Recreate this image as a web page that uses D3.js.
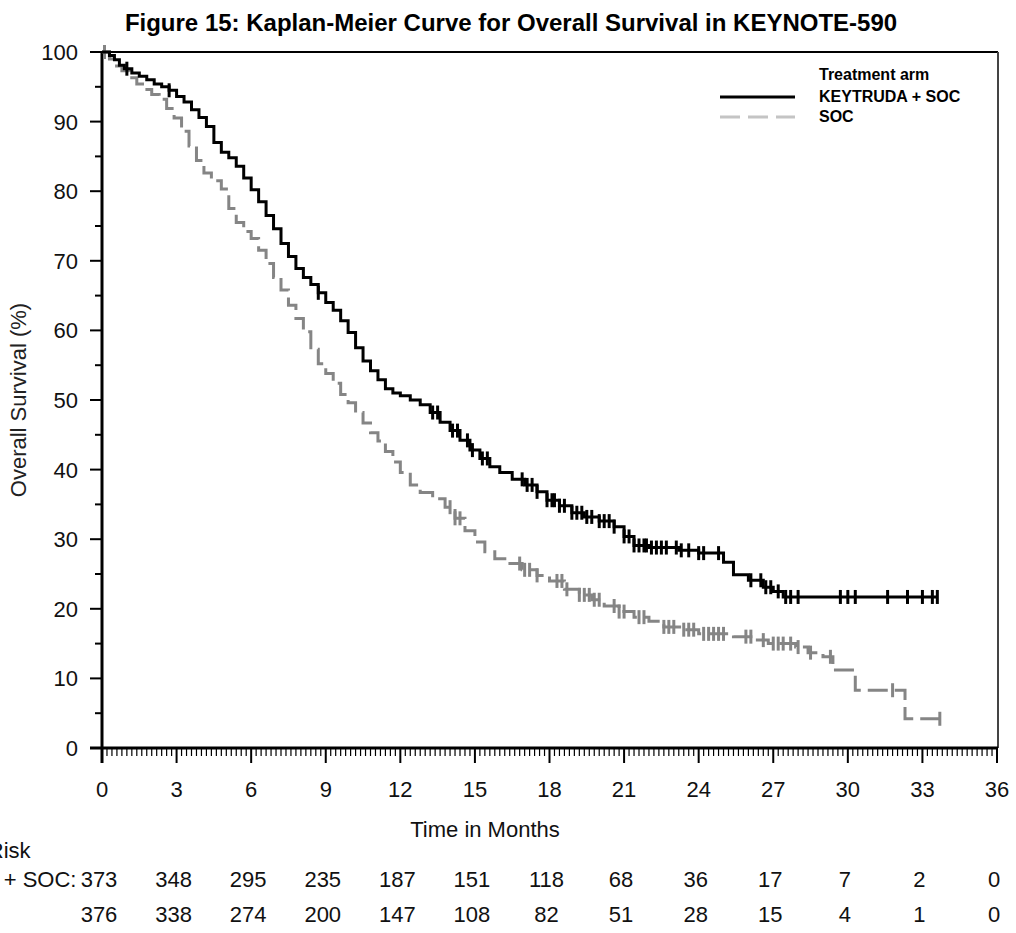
<!DOCTYPE html>
<html>
<head>
<meta charset="utf-8">
<script src="https://cdn.jsdelivr.net/npm/d3@7"></script>
<style>
  body { margin: 0; background: #fff; }
  text { font-family: "Liberation Sans", Arial, sans-serif; }
</style>
</head>
<body>
<div id="chart"></div>
<script>
  'use strict';

  // tick labels / risk table
  const monthTicks = [0, 3, 6, 9, 12, 15, 18, 21, 24, 27, 30, 33, 36];
  const survTicks = [0, 10, 20, 30, 40, 50, 60, 70, 80, 90, 100];
  const riskKeytruda = [373, 348, 295, 235, 187, 151, 118, 68, 36, 17, 7, 2, 0];
  const riskSoc = [376, 338, 274, 200, 147, 108, 82, 51, 28, 15, 4, 1, 0];

  // KEYTRUDA + SOC, step points (months, survival %)
  const keyTime = [0, 0.3, 0.5, 0.7, 0.9, 1.2, 1.5, 1.8, 2.1, 2.4, 2.7, 3.0, 3.3, 3.6, 3.9, 4.2, 4.5, 4.8, 5.1, 5.4,
    5.7, 6.0, 6.3, 6.6, 6.9, 7.2, 7.5, 7.8, 8.1, 8.4, 8.7, 9.0, 9.3, 9.6, 9.9, 10.2, 10.5, 10.8, 11.1, 11.4,
    11.7, 12.0, 12.4, 12.8, 13.2, 13.6, 14.0, 14.4, 14.8, 15.2, 15.6, 16.0, 16.5, 17.0, 17.5, 17.9, 18.4, 18.9, 19.4, 20.0,
    20.6, 21.0, 21.4, 22.0, 23.2, 24.0, 25.0, 25.4, 26.0, 26.6, 27.0, 27.4, 33.6];
  const keySurv = [100, 99.5, 98.9, 98.1, 97.6, 97.0, 96.5, 96.0, 95.4, 95.0, 94.5, 93.6, 92.8, 91.7, 90.6, 89.3, 87.0, 85.6, 84.8, 83.6,
    81.9, 80.2, 78.5, 76.5, 74.6, 72.5, 70.6, 68.9, 67.6, 66.6, 65.4, 64.0, 62.9, 61.4, 59.7, 57.5, 55.6, 54.2, 52.9, 51.6,
    51.0, 50.6, 50.0, 49.3, 48.2, 46.8, 45.6, 44.2, 42.8, 41.6, 40.4, 39.6, 38.6, 37.8, 36.8, 35.6, 34.8, 33.8, 33.2, 32.6,
    31.8, 30.4, 29.1, 28.8, 28.4, 28.0, 26.7, 24.9, 24.1, 23.1, 22.5, 21.7, 21.7];
  const keyCensor = [1.0, 2.7, 8.7, 13.3, 13.5, 14.1, 14.3, 14.7, 14.9, 15.3, 15.5, 16.9, 17.1, 17.3, 17.5, 17.9, 18.1, 18.2,
    18.4, 18.6, 18.9, 19.1, 19.3, 19.5, 19.7, 20.0, 20.2, 20.4, 20.6, 21.0, 21.2, 21.4, 21.6, 21.8, 21.9, 22.1, 22.3, 22.5,
    22.7, 23.1, 23.3, 23.6, 24.0, 24.2, 24.8, 26.1, 26.5, 26.7, 26.9, 27.2, 27.5, 27.7, 28.0, 29.7, 30.0, 30.3, 31.6, 32.4,
    33.0, 33.4, 33.6];

  // SOC
  const socTime = [0, 0.3, 0.5, 0.8, 1.1, 1.4, 1.7, 2.0, 2.3, 2.6, 2.9, 3.2, 3.5, 3.8, 4.1, 4.4, 4.8, 5.1, 5.4, 5.7,
    6.0, 6.3, 6.6, 6.9, 7.2, 7.5, 7.8, 8.1, 8.4, 8.7, 9.0, 9.3, 9.6, 9.9, 10.2, 10.5, 10.8, 11.1, 11.4, 11.7,
    12.0, 12.4, 12.8, 13.3, 13.8, 14.2, 14.6, 15.0, 15.4, 15.8, 16.3, 16.9, 17.5, 18.0, 18.6, 19.2, 19.7, 20.2, 20.8, 21.4,
    22.0, 22.6, 23.4, 24.0, 25.4, 26.2, 26.8, 27.9, 28.4, 29.0, 29.4, 30.3, 32.3, 33.7];
  const socSurv = [100, 99.0, 98.0, 97.3, 96.3, 95.4, 94.6, 93.9, 93.2, 91.9, 90.5, 88.6, 86.5, 84.4, 82.6, 81.5, 80.3, 77.5, 75.5, 74.2,
    73.2, 71.5, 69.6, 67.6, 65.8, 63.6, 61.7, 59.8, 57.3, 55.2, 53.8, 52.4, 50.8, 49.6, 48.2, 46.7, 45.3, 44.1, 42.6, 41.1,
    39.6, 37.8, 36.7, 35.8, 34.6, 33.0, 31.2, 29.6, 28.2, 27.2, 26.5, 25.6, 24.8, 24.0, 22.8, 22.0, 21.3, 20.4, 19.6, 18.8,
    18.2, 17.4, 17.0, 16.4, 16.0, 15.5, 15.0, 14.5, 13.7, 13.1, 11.2, 8.3, 4.2, 4.2];
  const socCensor = [0.1, 14.0, 14.2, 14.4, 16.8, 17.0, 17.2, 17.5, 18.3, 18.5, 18.7, 19.2, 19.4, 19.6, 19.8, 20.0, 20.6,
    20.8, 21.0, 21.6, 21.8, 22.6, 22.8, 23.0, 23.4, 23.6, 23.8, 24.2, 24.4, 24.6, 24.8, 25.0, 25.9, 26.1, 26.6, 27.0, 27.2,
    27.4, 27.7, 28.0, 28.5, 29.3, 31.8, 33.7];

  const W = 1016, H = 933;
  const plotL = 102, plotR = 997, plotT = 52, plotB = 748;

  const svg = d3.select('#chart').append('svg')
    .attr('width', W)
    .attr('height', H);

  const x = d3.scaleLinear().domain([0, 36]).range([plotL, plotR]);
  const y = d3.scaleLinear().domain([0, 100]).range([plotB, plotT]);

  // title
  svg.append('text')
    .attr('x', 511).attr('y', 31)
    .attr('text-anchor', 'middle')
    .attr('font-size', 24).attr('font-weight', 'bold')
    .text('Figure 15: Kaplan-Meier Curve for Overall Survival in KEYNOTE-590');

  // frame: top and right
  svg.append('line').attr('x1', plotL).attr('x2', plotR + 1).attr('y1', plotT).attr('y2', plotT)
    .attr('stroke', '#000').attr('stroke-width', 2);
  svg.append('line').attr('x1', plotR + 1).attr('x2', plotR + 1).attr('y1', plotT).attr('y2', plotB)
    .attr('stroke', '#444').attr('stroke-width', 2);

  // y axis
  const yAxis = svg.append('g').attr('transform', `translate(${plotL},0)`);
  yAxis.append('g').selectAll('line').data(d3.range(0, 101, 5)).enter().append('line')
    .attr('x1', d => d % 10 === 0 ? -12 : -7).attr('x2', 0)
    .attr('y1', d => y(d)).attr('y2', d => y(d))
    .attr('stroke', '#000').attr('stroke-width', 2);
  yAxis.append('line').attr('x1', 0).attr('x2', 0).attr('y1', plotT).attr('y2', plotB + 15)
    .attr('stroke', '#000').attr('stroke-width', 3);
  yAxis.append('g').selectAll('text').data(survTicks).enter().append('text')
    .attr('x', -24).attr('y', d => y(d)).attr('dy', '0.36em')
    .attr('text-anchor', 'end').attr('font-size', 22).attr('fill', '#111')
    .text(d => d);

  svg.append('text')
    .attr('transform', `translate(26,${(plotT + plotB) / 2}) rotate(-90)`)
    .attr('text-anchor', 'middle').attr('font-size', 22).attr('fill', '#222')
    .text('Overall Survival (%)');

  // x axis with minor ticks
  const xAxis = svg.append('g').attr('transform', `translate(0,${plotB})`);
  xAxis.append('g').selectAll('line').data(d3.range(0, 181)).enter().append('line')
    .attr('x1', d => x(d / 5)).attr('x2', d => x(d / 5))
    .attr('y1', 0).attr('y2', d => d % 15 === 0 ? 15 : 8)
    .attr('stroke', '#000').attr('stroke-width', d => d % 15 === 0 ? 2 : 1.2);
  xAxis.append('line').attr('x1', plotL - 12).attr('x2', plotR + 1).attr('y1', 0).attr('y2', 0)
    .attr('stroke', '#000').attr('stroke-width', 3);
  xAxis.append('g').selectAll('text').data(monthTicks).enter().append('text')
    .attr('x', d => x(d)).attr('y', 49)
    .attr('text-anchor', 'middle').attr('font-size', 22).attr('fill', '#111')
    .text(d => d);

  svg.append('text')
    .attr('x', 485).attr('y', 837)
    .attr('text-anchor', 'middle').attr('font-size', 22).attr('fill', '#111')
    .text('Time in Months');

  // curves
  const stepLine = d3.line()
    .x(d => x(d[0]))
    .y(d => y(d[1]))
    .curve(d3.curveStepAfter);

  const arms = [
    { time: keyTime, surv: keySurv, censor: keyCensor, color: '#000', dash: null },
    { time: socTime, surv: socSurv, censor: socCensor, color: '#858585', dash: '20,7' }
  ];

  arms.slice().reverse().forEach(arm => {
    const pts = arm.time.map((t, i) => [t, arm.surv[i]]);
    const g = svg.append('g');
    g.append('path')
      .attr('d', stepLine(pts))
      .attr('fill', 'none')
      .attr('stroke', arm.color)
      .attr('stroke-width', 3)
      .attr('stroke-dasharray', arm.dash);

    const bis = d3.bisector(d => d).right;
    g.selectAll('line').data(arm.censor).enter().append('line')
      .attr('x1', d => x(d)).attr('x2', d => x(d))
      .attr('y1', d => y(arm.surv[bis(arm.time, d) - 1]) - 7)
      .attr('y2', d => y(arm.surv[bis(arm.time, d) - 1]) + 7)
      .attr('stroke', arm.color)
      .attr('stroke-width', 3);
  });

  // legend
  const legend = svg.append('g');
  legend.append('text').attr('x', 819).attr('y', 80)
    .attr('font-size', 16).attr('font-weight', 'bold').text('Treatment arm');
  legend.append('line').attr('x1', 720).attr('x2', 795).attr('y1', 97).attr('y2', 97)
    .attr('stroke', '#000').attr('stroke-width', 3);
  legend.append('text').attr('x', 819).attr('y', 102)
    .attr('font-size', 16).attr('font-weight', 'bold').text('KEYTRUDA + SOC');
  legend.append('line').attr('x1', 720).attr('x2', 795).attr('y1', 117).attr('y2', 117)
    .attr('stroke', '#c4c4c4').attr('stroke-width', 3).attr('stroke-dasharray', '20,8');
  legend.append('text').attr('x', 819).attr('y', 122)
    .attr('font-size', 16).attr('font-weight', 'bold').text('SOC');

  // number at risk (left part runs off the page, as in the source figure)
  const risk = svg.append('g').attr('font-size', 22).attr('fill', '#111');
  risk.append('text').attr('x', -121).attr('y', 858).text('Number at Risk');
  risk.append('text').attr('x', -121).attr('y', 887).text('KEYTRUDA + SOC:');
  risk.append('text').attr('x', -121).attr('y', 922).text('SOC:');
  risk.append('g').selectAll('text').data(riskKeytruda).enter().append('text')
    .attr('x', (d, i) => x(monthTicks[i]) - 3).attr('y', 887)
    .attr('text-anchor', 'middle').text(d => d);
  risk.append('g').selectAll('text').data(riskSoc).enter().append('text')
    .attr('x', (d, i) => x(monthTicks[i]) - 3).attr('y', 922)
    .attr('text-anchor', 'middle').text(d => d);
</script>
</body>
</html>
